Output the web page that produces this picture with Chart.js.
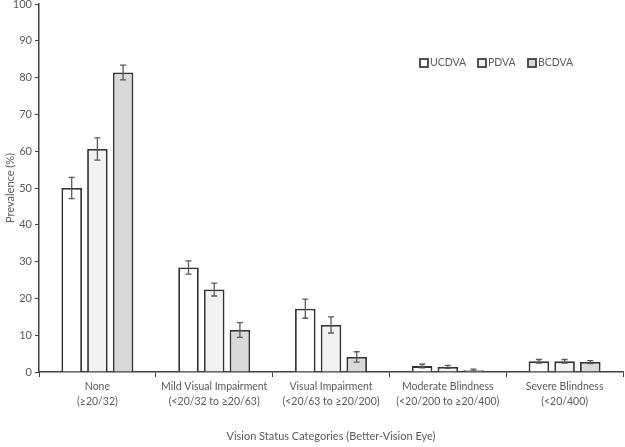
<!DOCTYPE html>
<html>
<head>
<meta charset="utf-8">
<script src="https://cdn.jsdelivr.net/npm/chart.js@4"></script>
<style>
  html, body { margin: 0; padding: 0; background: #fff; }
  #wrap { width: 625px; height: 447px; }
</style>
</head>
<body>
<div id="wrap"><canvas id="chart"></canvas></div>
<script>
const categories = [
  ['None', '(≥20/32)'],
  ['Mild Visual Impairment', '(<20/32 to ≥20/63)'],
  ['Visual Impairment', '(<20/63 to ≥20/200)'],
  ['Moderate Blindness', '(<20/200 to ≥20/400)'],
  ['Severe Blindness', '(<20/400)']
];
const seriesNames = ['UCDVA', 'PDVA', 'BCDVA'];
const ucdva = [50.0, 28.4, 17.2, 1.6, 2.9];
const pdva = [60.6, 22.4, 12.8, 1.4, 2.9];
const bcdva = [81.4, 11.4, 4.1, 0.5, 2.7];
// half-width of the 95% CI bars
const ucdvaErr = [2.9, 1.8, 2.6, 0.5, 0.5];
const pdvaErr = [3.0, 1.75, 2.2, 0.4, 0.5];
const bcdvaErr = [2.0, 2.0, 1.4, 0.3, 0.4];
const yTicks = [0, 10, 20, 30, 40, 50, 60, 70, 80, 90, 100];

const fills = ['#ffffff', '#f2f2f2', '#d9d9d9'];
const textColor = '#595959';
const fontFam = "Lato, 'Noto Sans', sans-serif";
const fontSize = 10.5;

const errorBars = {
  id: 'errorBars',
  afterDatasetsDraw(chart) {
    const ctx = chart.ctx;
    const y = chart.scales.y;
    ctx.save();
    ctx.strokeStyle = '#595959';
    ctx.lineWidth = 1.3;
    chart.data.datasets.forEach((ds, i) => {
      const meta = chart.getDatasetMeta(i);
      meta.data.forEach((bar, j) => {
        const v = ds.data[j], e = ds.err[j];
        const top = y.getPixelForValue(v + e);
        const bot = y.getPixelForValue(v - e);
        const x = bar.x;
        ctx.beginPath();
        ctx.moveTo(x, top); ctx.lineTo(x, bot);
        ctx.moveTo(x - 3, top); ctx.lineTo(x + 3, top);
        ctx.moveTo(x - 3, bot); ctx.lineTo(x + 3, bot);
        ctx.stroke();
      });
    });
    ctx.restore();
  }
};

const innerLegend = {
  id: 'innerLegend',
  afterDraw(chart) {
    const ctx = chart.ctx;
    const starts = [420, 478, 528];
    ctx.save();
    ctx.font = '10.5px ' + fontFam;
    ctx.textBaseline = 'middle';
    chart.data.datasets.forEach((ds, i) => {
      const x = starts[i], yc = 63;
      ctx.fillStyle = ds.backgroundColor;
      ctx.fillRect(x, yc - 4, 8, 8);
      ctx.strokeStyle = '#404040';
      ctx.lineWidth = 1.8;
      ctx.strokeRect(x, yc - 4, 8, 8);
      ctx.fillStyle = textColor;
      ctx.fillText(ds.label, x + 10, yc);
    });
    ctx.restore();
  }
};

const seriesData = [ucdva, pdva, bcdva];
const seriesErr = [ucdvaErr, pdvaErr, bcdvaErr];

new Chart(document.getElementById('chart'), {
  type: 'bar',
  data: {
    labels: categories,
    datasets: seriesNames.map((name, i) => ({
      label: name,
      data: seriesData[i],
      err: seriesErr[i],
      backgroundColor: fills[i],
      borderColor: '#333333',
      borderWidth: 1.8,
      categoryPercentage: 0.66,
      barPercentage: 0.8
    }))
  },
  options: {
    responsive: true,
    maintainAspectRatio: false,
    animation: false,
    layout: { padding: { top: 4, right: 2, left: 0, bottom: 0 } },
    plugins: {
      legend: { display: false },
      tooltip: { enabled: false }
    },
    scales: {
      x: {
        grid: { display: true, drawOnChartArea: false, offset: true, tickLength: 5, color: '#404040' },
        border: { color: '#404040', width: 1.5 },
        ticks: { color: textColor, font: { family: fontFam, size: fontSize, lineHeight: 1.35 }, maxRotation: 0, autoSkip: false, padding: 3 },
        title: {
          display: true,
          text: 'Vision Status Categories (Better-Vision Eye)',
          color: textColor,
          font: { family: fontFam, size: 11 },
          padding: { top: 20, bottom: 4 }
        },
        afterFit(scale) { scale.height = 75; }
      },
      y: {
        min: 0,
        max: 100,
        afterBuildTicks(scale) { scale.ticks = yTicks.map(v => ({ value: v })); },
        grid: { display: true, drawOnChartArea: false, tickLength: 4, color: '#404040' },
        border: { color: '#404040', width: 1.5 },
        ticks: { color: textColor, font: { family: fontFam, size: 11 }, padding: 3 },
        title: {
          display: true,
          text: 'Prevalence (%)',
          color: textColor,
          font: { family: fontFam, size: 11 },
          padding: { top: 4, bottom: 0 }
        },
        afterFit(scale) { scale.width = 39; scale.paddingTop = 0; scale.paddingBottom = 0; }
      }
    }
  },
  plugins: [errorBars, innerLegend]
});
</script>
</body>
</html>
